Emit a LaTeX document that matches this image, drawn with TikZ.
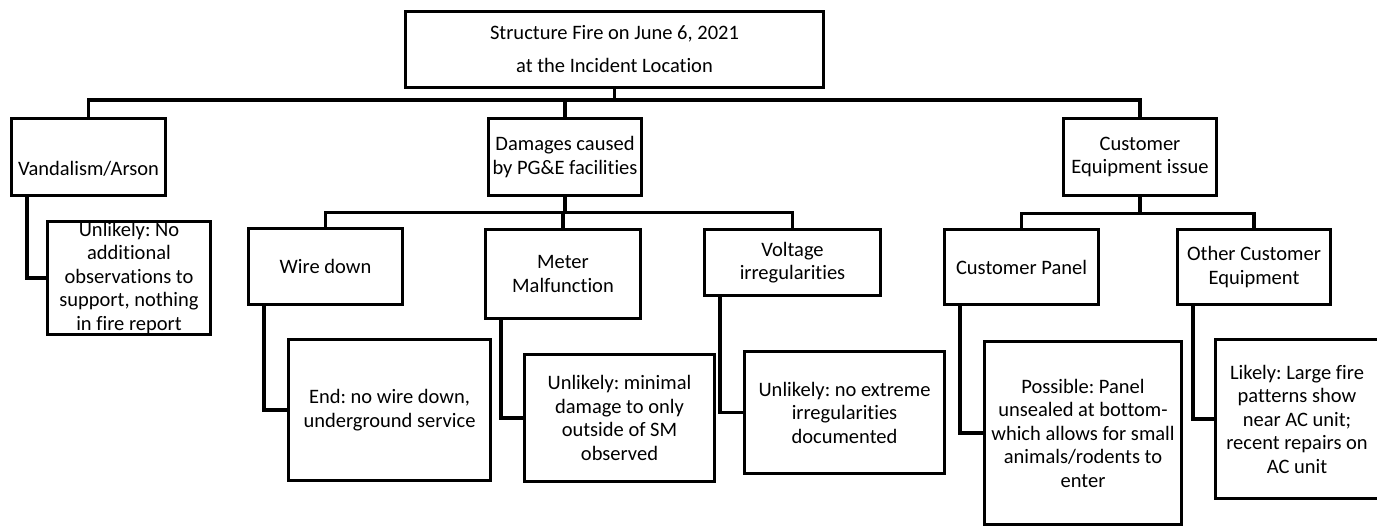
\documentclass[tikz,border=0pt]{standalone}
\usepackage{fontspec}
\setmainfont{Carlito}[RawFeature={-liga;-clig;-calt;-dlig}]
\frenchspacing

\begin{document}
\begin{tikzpicture}[x=1pt, y=-1pt,
        box/.style={draw, line width=3.7pt, inner sep=0pt, align=center, font=\fontsize{20.5}{23.5}\selectfont},
        link/.style={line width=3.7pt}]
            \useasboundingbox (0,0) rectangle (1377,527);

            % Top event
            \node[box, minimum width=418, minimum height=76, font=\fontsize{20.5}{33}\selectfont] (top) at (614.5,49.5) {Structure Fire on June 6, 2021\\at the Incident Location};

            % First level of causes
            \node[box, minimum width=154, minimum height=77] (vand) at (88.5,157) {\raisebox{-12pt}[\height][\depth]{Vandalism/Arson}};
            \node[box, minimum width=153, minimum height=77] (dmg) at (565,157) {Damages caused\\by PG\&E facilities};
            \node[box, minimum width=153, minimum height=77] (cust) at (1140,157) {Customer\\Equipment issue};

            % Second level of causes
            \node[box, minimum width=154, minimum height=76] (wire) at (325.5,266.5) {Wire down};
            \node[box, minimum width=155, minimum height=89] (meter) at (563,274) {Meter\\Malfunction};
            \node[box, minimum width=176, minimum height=66] (volt) at (792.5,262.5) {Voltage\\irregularities};
            \node[box, minimum width=154, minimum height=75] (panel) at (1021.5,267) {Customer Panel};
            \node[box, minimum width=153, minimum height=75] (other) at (1254,267) {Other Customer\\Equipment};

            % Findings
            \node[box, minimum width=163, minimum height=113] (vandc) at (129,278) {Unlikely: No\\additional\\observations to\\support, nothing\\in fire report};
            \node[box, minimum width=202, minimum height=141] (wirec) at (389.5,410) {End: no wire down,\\underground service};
            \node[box, minimum width=190, minimum height=127] (meterc) at (619.5,418) {Unlikely: minimal\\damage to only\\outside of SM\\observed};
            \node[box, minimum width=200, minimum height=122] (voltc) at (844.5,412.5) {Unlikely: no extreme\\irregularities\\documented};
            \node[box, minimum width=197, minimum height=183] (panelc) at (1083,433) {Possible: Panel\\unsealed at bottom-\\which allows for small\\animals/rodents to\\enter};
            \node[box, minimum width=163, minimum height=159] (otherc) at (1297,419) {Likely: Large fire\\patterns show\\near AC unit;\\recent repairs on\\AC unit};

            % Connect the top event to its causes
            \foreach \child in {vand, dmg, cust}
                \draw[link] (top.south) -- ++(0,11) -| (\child.north);

            \foreach \child in {wire, meter, volt}
                \draw[link] (dmg.south) -- ++(0,15) -| (\child.north);

            \foreach \child in {panel, other}
                \draw[link] (cust.south) -- ++(0,16) -| (\child.north);

            % Elbow lines down to the findings
            \foreach \parent/\leaf in {vand/vandc, wire/wirec, meter/meterc, volt/voltc, panel/panelc, other/otherc}
                \draw[link] ([xshift=17pt]\parent.south west) |- (\leaf.west);

        \end{tikzpicture}
\end{document}
